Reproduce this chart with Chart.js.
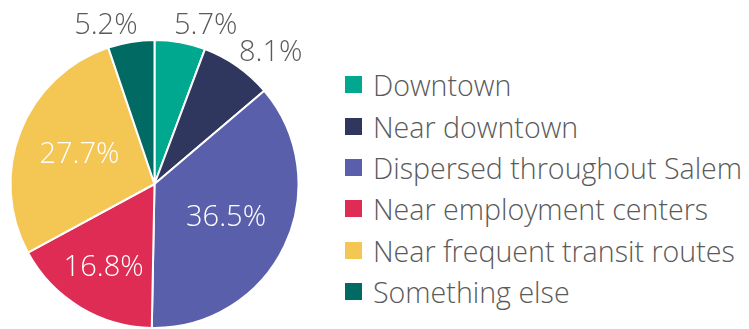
<!DOCTYPE html>
<html>
<head>
<meta charset="utf-8">
<title>Preferred housing locations</title>
<script src="https://cdn.jsdelivr.net/npm/chart.js@4.4.1/dist/chart.umd.min.js"></script>
<style>
  body { margin: 0; background: #fff; }
  #wrap { position: relative; width: 749px; height: 329px; overflow: hidden; }
  #pie { position: absolute; left: 0; top: 0; }
  #legend {
    position: absolute; left: 345px; top: 64px;
    margin: 0; padding: 0; list-style: none;
    font-family: "Open Sans", sans-serif; font-weight: 350; font-size: 28.6px; color: #5a5a5a;
  }
  #legend li { display: flex; align-items: center; height: 41.4px; white-space: nowrap; }
  #legend .box { width: 17px; height: 17px; margin-right: 11px; flex: none; }
</style>
</head>
<body>
<div id="wrap">
  <canvas id="pie" width="340" height="329"></canvas>
  <ul id="legend"></ul>
</div>
<script>
'use strict';

// Where should new housing go? (share of responses, %)
const locations = [
    'Downtown',
    'Near downtown',
    'Dispersed throughout Salem',
    'Near employment centers',
    'Near frequent transit routes',
    'Something else'
];
const shares = [5.7, 8.1, 36.5, 16.8, 27.7, 5.2];
const sliceColors = ['#00a88f', '#30375f', '#5a5fab', '#de2c54', '#f4c653', '#006a63'];


// Percent labels: small slices get theirs outside the rim, big ones inside
const pieLabels = {
    id: 'pieLabels',
    afterDatasetsDraw(chart, args, opts) {
        const ctx = chart.ctx;
        const meta = chart.getDatasetMeta(0);
        ctx.save();
        ctx.font = opts.font;
        ctx.textAlign = 'center';
        ctx.textBaseline = 'middle';
        meta.data.forEach((arc, i) => {
            const p = arc.getProps(['x', 'y', 'startAngle', 'endAngle', 'outerRadius'], true);
            const mid = (p.startAngle + p.endAngle) / 2;
            const f = opts.radius[i];
            let lx = p.x + Math.cos(mid) * p.outerRadius * f;
            let ly = p.y + Math.sin(mid) * p.outerRadius * f;
            if (f > 1) {
                lx += Math.sign(Math.cos(mid)) * opts.shift;
                ly += opts.drop;
            }
            ctx.fillStyle = f > 1 ? opts.outsideColor : opts.insideColor;
            ctx.fillText(shares[i].toFixed(1) + '%', lx, ly);
        });
        ctx.restore();
    }
};


// Legend as a plain list next to the canvas
const htmlLegend = {
    id: 'htmlLegend',
    afterUpdate(chart) {
        const list = document.getElementById('legend');
        list.innerHTML = '';
        const items = chart.options.plugins.legend.labels.generateLabels(chart);
        items.forEach((item) => {
            let li = document.createElement('li');
            let box = document.createElement('span');
            box.className = 'box';
            box.style.background = item.fillStyle;
            let text = document.createElement('span');
            text.textContent = item.text;
            li.appendChild(box);
            li.appendChild(text);
            list.appendChild(li);
        });
    }
};


new Chart(document.getElementById('pie').getContext('2d'), {
    type: 'pie',
    data: {
        labels: locations,
        datasets: [{
            data: shares,
            backgroundColor: sliceColors,
            borderColor: '#ffffff',
            borderWidth: 2
        }]
    },
    options: {
        responsive: false,
        animation: false,
        events: [],
        layout: { padding: { top: 39, left: 9, right: 40, bottom: 0 } },
        plugins: {
            legend: { display: false },
            tooltip: { enabled: false },
            pieLabels: {
                font: '350 29px "Open Sans"',
                radius: [1.138, 1.138, 0.55, 0.68, 0.56, 1.138],
                shift: 22,
                drop: 3,
                insideColor: '#ffffff',
                outsideColor: '#5a5a5a'
            }
        }
    },
    plugins: [pieLabels, htmlLegend]
});
</script>
</body>
</html>
